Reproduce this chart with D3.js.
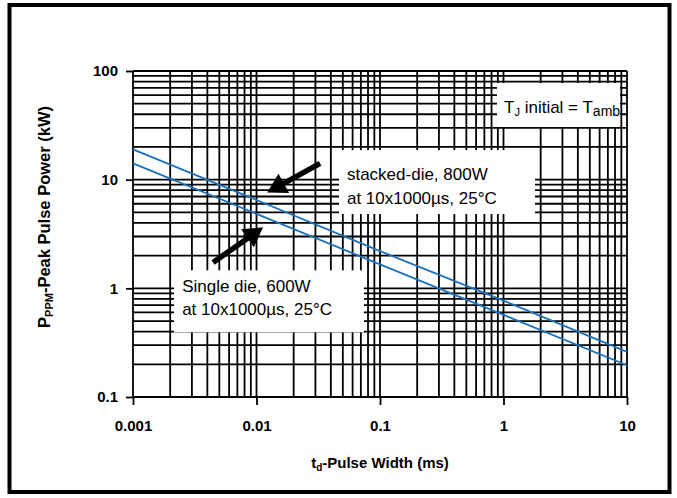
<!DOCTYPE html>
<html><head><meta charset="utf-8">
<script src="https://cdn.jsdelivr.net/npm/d3@7"></script>
<style>
body{margin:0;background:#fff;}
svg{display:block;font-family:Arial,"Liberation Sans",sans-serif;}
</style></head>
<body><svg id="c" width="677" height="498"></svg>
<script>
// ---- data ----
const xTicks = [0.001, 0.01, 0.1, 1, 10];
const xTickLabels = ["0.001", "0.01", "0.1", "1", "10"];
const yTicks = [0.1, 1, 10, 100];
const yTickLabels = ["0.1", "1", "10", "100"];
const pulseWidth = [0.001, 0.01, 0.1, 1, 10];          // ms
const stackedDie = [19.0, 6.5, 2.2, 0.77, 0.26];       // kW
const singleDie  = [14.1, 4.85, 1.66, 0.57, 0.196];    // kW
const arrows = [
  {from:[0.0327, 14.1], to:[0.0122, 7.6]},
  {from:[0.00445, 1.73], to:[0.0113, 3.64]}
];

const svg = d3.select("#c");
const x = d3.scaleLog().domain([0.001, 10]).range([133, 627]);
const y = d3.scaleLog().domain([0.1, 100]).range([397, 71]);

// outer frame
svg.append("rect").attr("x",9.5).attr("y",5).attr("width",660).attr("height",487)
  .attr("fill","none").attr("stroke","#000").attr("stroke-width",4);

// grid
const minorX = [];
for (let d = 0.001; d < 10; d *= 10) for (let k = 1; k <= 9; k++) minorX.push(+(d*k).toPrecision(3));
minorX.push(10);
const minorY = [];
for (let d = 0.1; d < 100; d *= 10) for (let k = 1; k <= 9; k++) minorY.push(+(d*k).toPrecision(3));
minorY.push(100);

const g = svg.append("g");
g.selectAll(".vx").data(minorX).join("line")
  .attr("x1",d=>x(d)).attr("x2",d=>x(d)).attr("y1",y(100)).attr("y2",y(0.1))
  .attr("stroke","#000").attr("stroke-width",1.8);
g.selectAll(".hy").data(minorY).join("line")
  .attr("y1",d=>y(d)).attr("y2",d=>y(d)).attr("x1",x(0.001)).attr("x2",x(10))
  .attr("stroke","#000").attr("stroke-width",1.8);

// axes
const xa = svg.append("g").attr("transform",`translate(0,${y(0.1)})`)
  .call(d3.axisBottom(x).tickValues(xTicks).tickFormat((d,i)=>xTickLabels[i]).tickSize(8).tickPadding(15));
const ya = svg.append("g").attr("transform",`translate(${x(0.001)},0)`)
  .call(d3.axisLeft(y).tickValues(yTicks).tickFormat((d,i)=>yTickLabels[i]).tickSize(7).tickPadding(8));
[xa, ya].forEach(a=>{
  a.select(".domain").remove();
  a.selectAll(".tick line").attr("stroke","#000").attr("stroke-width",1.8);
  a.selectAll(".tick text").attr("fill","#000").attr("font-size",15).attr("font-weight","bold")
    .attr("font-family",'Arial,"Liberation Sans",sans-serif');
});

// annotation boxes
function box(x0,y0,x1,y1){
  svg.append("rect").attr("x",x(x0)).attr("y",y(y0)).attr("width",x(x1)-x(x0)).attr("height",y(y1)-y(y0)).attr("fill","#fff");
}
box(0.0466, 18.7, 1.8, 4.83);
box(0.00215, 1.465, 0.0741, 0.394);
box(0.885, 77.5, 8.77, 30.5);

// lines
const line = d3.line().x(d=>x(d[0])).y(d=>y(d[1]));
[stackedDie, singleDie].forEach(s=>{
  svg.append("path").datum(pulseWidth.map((t,i)=>[t,s[i]])).attr("d",line)
    .attr("fill","none").attr("stroke","#1a72bd").attr("stroke-width",1.8);
});

// arrows
arrows.forEach(a=>{
  const x0=x(a.from[0]), y0=y(a.from[1]), x1=x(a.to[0]), y1=y(a.to[1]);
  const dx=x1-x0, dy=y1-y0, L=Math.hypot(dx,dy), ux=dx/L, uy=dy/L, px=-uy, py=ux;
  const hl=19, hw=11;
  const bx=x1-ux*hl, by=y1-uy*hl;
  svg.append("line").attr("x1",x0).attr("y1",y0).attr("x2",bx+ux*2).attr("y2",by+uy*2)
    .attr("stroke","#000").attr("stroke-width",5.5);
  svg.append("path").attr("d",`M${x1},${y1}L${bx+px*hw},${by+py*hw}L${bx-px*hw},${by-py*hw}Z`).attr("fill","#000");
});

// texts
const t = svg.append("g").attr("font-size",17).attr("fill","#000");
t.append("text").attr("x",x(0.054)).attr("y",y(9.94)).text("stacked-die, 800W");
t.append("text").attr("x",x(0.054)).attr("y",y(5.97)).text("at 10x1000µs, 25°C");
t.append("text").attr("x",x(0.0025)).attr("y",y(0.925)).text("Single die, 600W");
t.append("text").attr("x",x(0.0025)).attr("y",y(0.569)).text("at 10x1000µs, 25°C");
const tj = t.append("text").attr("x",x(1.01)).attr("y",y(41));
tj.append("tspan").text("T");
tj.append("tspan").attr("font-size",11).attr("dy",3).text("J");
tj.append("tspan").attr("dy",-3).text(" initial = T");
tj.append("tspan").attr("font-size",14).attr("dy",3).text("amb");

// axis titles
const xt = svg.append("text").attr("x",380).attr("y",468).attr("text-anchor","middle")
  .attr("font-size",15).attr("font-weight","bold");
xt.append("tspan").text("t");
xt.append("tspan").attr("font-size",10).attr("dy",3).text("d");
xt.append("tspan").attr("dy",-3).text("-Pulse Width (ms)");

const yt = svg.append("text").attr("transform","translate(50,217) rotate(-90)").attr("text-anchor","middle")
  .attr("font-size",16.5).attr("font-weight","bold");
yt.append("tspan").text("P");
yt.append("tspan").attr("font-size",11).attr("dy",3).text("PPM");
yt.append("tspan").attr("dy",-3).text("-Peak Pulse Power (kW)");
</script></body></html>
